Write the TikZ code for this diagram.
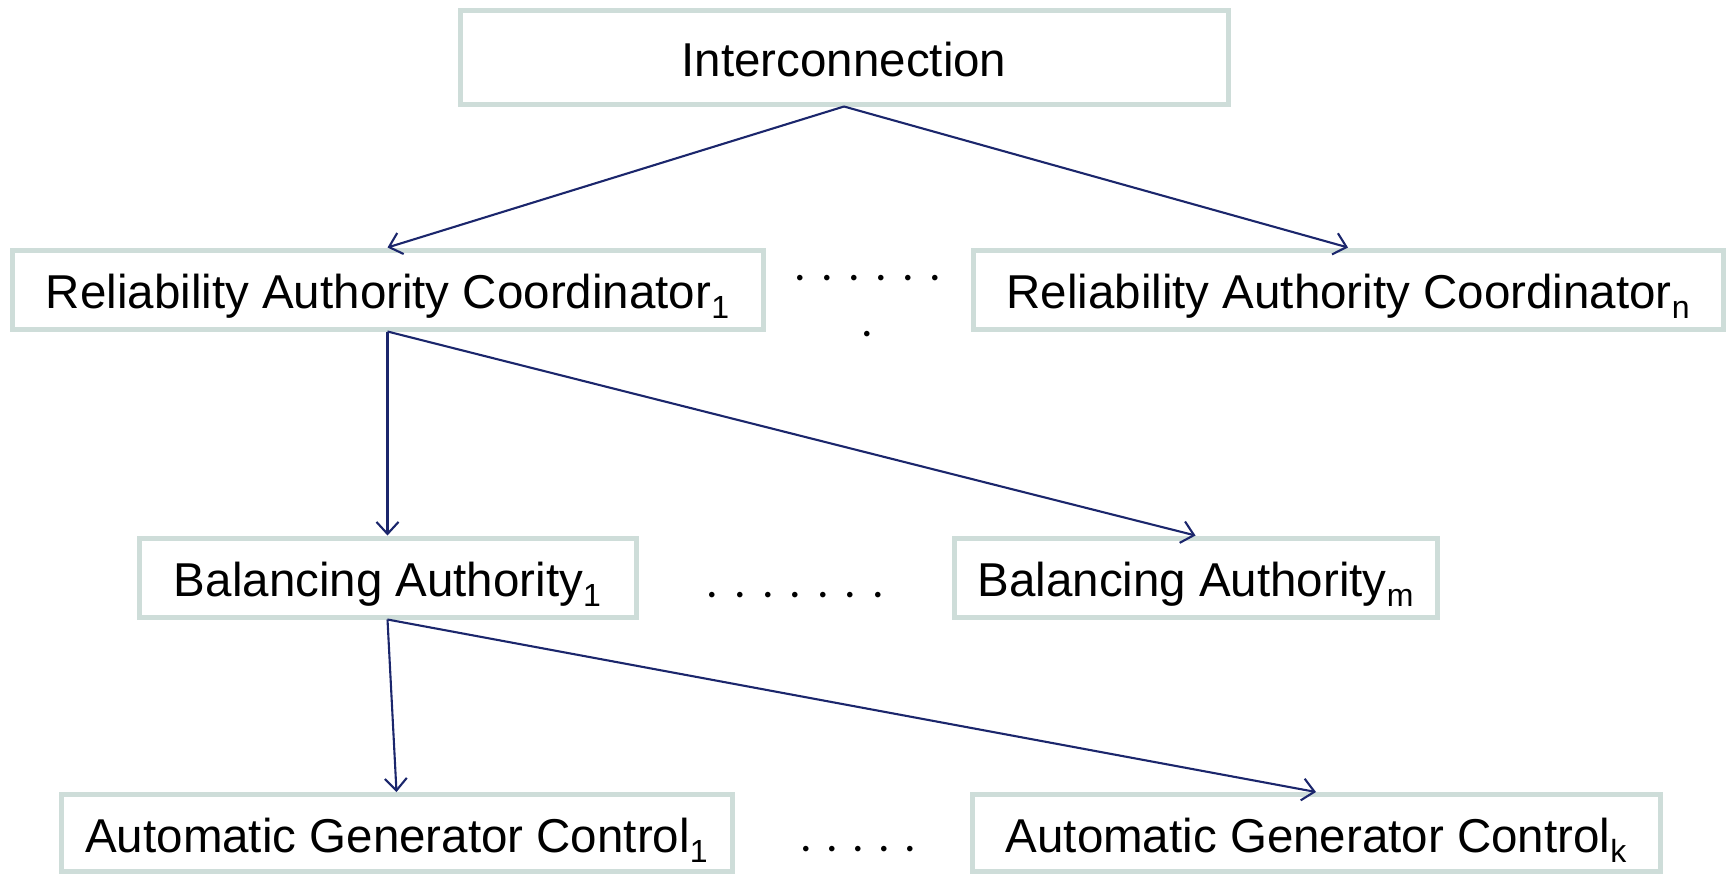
\documentclass[tikz,border=0pt]{standalone}
\usepackage{fontspec}
\setmainfont{Liberation Sans}
\newfontfamily\dotfont{Carlito}
\usetikzlibrary{arrows.meta}
\definecolor{boxline}{RGB}{206,221,217}
\definecolor{navy}{RGB}{27,38,108}
\newcommand\subs[1]{\raisebox{-10pt}[0pt][0pt]{\fontsize{32}{34}\selectfont #1}}
\tikzset{
  box/.style={draw=boxline, line width=5pt, fill=white, minimum height=79pt, inner sep=0pt,
    text height=38.5pt, text depth=0pt,
    font=\fontsize{47.5}{56}\selectfont, text=black},
  arr/.style={draw=navy, line width=2.1pt, -{Straight Barb[length=12pt,width=22pt,line width=2.1pt]}},
  dotrow/.style={font=\dotfont\fontsize{46}{55}\selectfont, inner sep=0pt, anchor=base, text=black}
}
\begin{document}
\begin{tikzpicture}[x=1pt,y=-1pt]
\useasboundingbox (0,0) rectangle (1726,873);
\node[box, minimum width=768pt, minimum height=94pt] (inter) at (844,57) {Interconnection};
\node[box, minimum width=751pt] (rac1) at (387.5,289.5) {Reliability Authority Coordinator\subs{1}};
\node[box, minimum width=750pt] (racn) at (1348,289.5) {Reliability Authority Coordinator\subs{n}};
\node[box, minimum width=497pt] (ba1) at (387.5,577.5) {Balancing Authority\subs{1}};
\node[box, minimum width=483pt] (bam) at (1195.5,577.5) {Balancing Authority\subs{m}};
\node[box, minimum width=671pt, minimum height=77pt] (agc1) at (396.5,833) {Automatic Generator Control\subs{1}};
\node[box, minimum width=688pt, minimum height=77pt] (agck) at (1316,833) {Automatic Generator Control\subs{k}};
\node[dotrow] (rdots) at (867.5,280) {.\kern15.4pt.\kern15.4pt.\kern15.4pt.\kern15.4pt.\kern15.4pt.};
\node[dotrow] (rdot) at (867.5,336) {.};
\node[dotrow] (bdots) at (795.5,597) {.\kern16pt.\kern16pt.\kern16pt.\kern16pt.\kern16pt.\kern16pt.};
\node[dotrow] (adots) at (858,851) {.\kern14.4pt.\kern14.4pt.\kern14.4pt.\kern14.4pt.};
\draw[arr] (inter.south) -- (rac1.north);
\draw[arr] (inter.south) -- (racn.north);
\draw[arr] (rac1.south) -- (ba1.north);
\draw[arr] (rac1.south) -- (bam.north);
\draw[arr] (ba1.south) -- (agc1.north);
\draw[arr] (ba1.south) -- (agck.north);
\end{tikzpicture}
\end{document}
